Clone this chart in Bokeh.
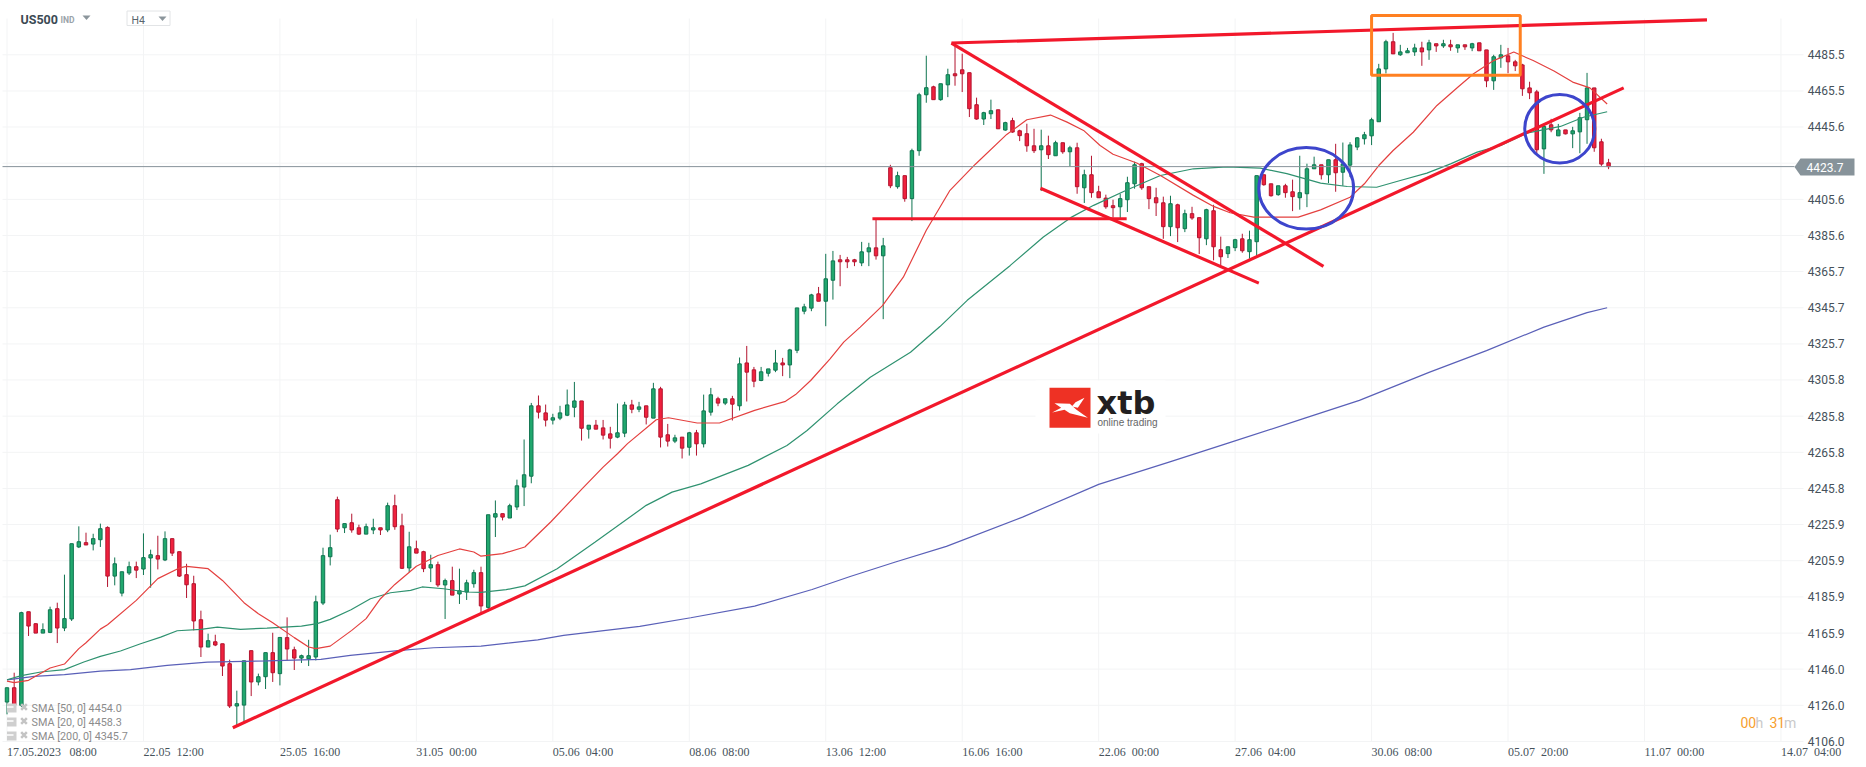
from bokeh.plotting import figure
from bokeh.embed import file_html
from bokeh.resources import INLINE
from bokeh.models import (ColumnDataSource, FixedTicker, LinearAxis, LabelSet, Label, Range1d)

opens = [
4127.8,4135.7,4126.0,4177.7,4171.1,4165.9,4166.3,4179.4,4168.7,4173.7,
4213.5,4215.9,4215.1,4217.5,4224.3,4197.4,4188.0,4199.1,4202.6,4201.3,
4207.4,4208.7,4206.3,4218.1,4210.9,4198.2,4193.2,4173.3,4158.2,4161.1,
4160.0,4149.0,4125.6,4126.1,4156.2,4138.9,4141.8,4155.1,4143.5,4163.4,
4156.7,4152.1,4151.7,4152.7,4182.5,4208.1,4239.6,4224.1,4226.9,4224.1,
4220.6,4222.9,4224.1,4222.9,4236.3,4225.2,4201.9,4212.5,4210.9,4201.9,
4203.7,4192.5,4194.9,4187.5,4188.6,4193.2,4199.3,4180.1,4230.0,4231.9,
4229.5,4235.6,4246.6,4252.6,4291.5,4287.6,4283.6,4284.7,4286.3,4290.7,
4294.2,4278.6,4280.8,4279.3,4276.0,4274.2,4276.4,4292.0,4289.6,4291.5,
4284.7,4300.9,4275.5,4272.0,4274.2,4268.6,4276.6,4270.5,4288.0,4295.4,
4293.0,4295.4,4291.5,4315.2,4311.4,4305.5,4309.5,4311.2,4315.2,4314.1,
4322.2,4343.8,4345.5,4353.4,4349.3,4360.9,4372.2,4372.2,4372.2,4370.5,
4376.6,4378.8,4374.4,4423.1,4412.6,4418.7,4406.0,4432.5,4463.4,4467.8,
4460.7,4468.9,4475.0,4477.2,4475.6,4457.9,4450.0,4452.9,4455.1,4443.9,
4449.1,4443.5,4441.9,4435.2,4433.0,4435.2,4429.7,4436.9,4431.9,4434.1,
4412.0,4419.2,4409.8,4406.3,4402.1,4401.5,4405.4,4414.2,4425.3,4412.6,
4406.5,4403.7,4390.5,4402.6,4389.4,4397.7,4395.5,4383.8,4399.3,4377.8,
4375.6,4378.9,4383.8,4376.7,4382.2,4419.2,4414.2,4408.2,4413.1,4409.8,
4406.5,4408.7,4422.5,4424.7,4419.2,4427.5,4420.6,4424.5,4434.5,4439.1,
4440.7,4448.5,4477.7,4492.7,4485.5,4486.6,4487.1,4489.3,4488.2,4491.6,
4490.4,4491.0,4489.3,4491.0,4489.3,4492.1,4488.2,4471.1,4483.8,4484.9,
4481.6,4479.9,4467.2,4465.0,4433.5,4446.8,4440.7,4444.0,4441.8,4442.9,
4449.6,4467.2,4437.4,4425.8]

highs = [
4135.7,4144.0,4177.7,4177.7,4171.3,4171.3,4180.5,4182.7,4198.2,4215.3,
4224.9,4221.4,4220.8,4226.4,4224.9,4207.7,4199.8,4205.4,4205.4,4221.0,
4212.0,4219.7,4222.1,4218.1,4210.9,4204.2,4197.6,4178.3,4165.6,4165.0,
4160.0,4151.2,4134.1,4150.6,4156.2,4143.5,4155.1,4166.1,4163.5,4174.6,
4158.4,4154.0,4162.2,4186.6,4213.1,4220.3,4241.3,4226.4,4231.9,4225.8,
4226.4,4229.1,4224.1,4238.0,4242.4,4231.9,4221.9,4217.0,4211.4,4209.2,
4205.4,4196.0,4202.6,4201.5,4195.4,4200.9,4202.6,4231.3,4239.2,4231.9,
4237.4,4250.7,4272.9,4293.1,4297.2,4292.2,4287.1,4291.5,4300.5,4304.7,
4294.2,4280.8,4283.7,4283.7,4279.9,4292.8,4293.7,4294.8,4293.7,4291.5,
4304.2,4302.0,4281.5,4275.5,4274.2,4277.1,4278.2,4297.7,4301.4,4296.5,
4295.4,4297.0,4318.2,4324.6,4313.0,4313.0,4311.9,4322.4,4318.0,4323.0,
4345.6,4347.9,4353.4,4357.2,4375.5,4377.1,4374.9,4373.8,4372.7,4382.1,
4381.6,4394.9,4384.3,4424.7,4420.9,4418.7,4433.6,4464.5,4485.0,4468.4,
4469.5,4477.8,4492.5,4486.1,4475.6,4461.8,4454.0,4460.7,4455.1,4448.5,
4450.7,4444.1,4447.4,4444.6,4444.1,4440.8,4438.0,4436.9,4435.2,4436.9,
4422.0,4429.7,4413.1,4408.2,4405.4,4408.7,4418.1,4426.4,4425.8,4412.6,
4412.0,4407.1,4407.6,4403.2,4399.9,4401.5,4395.5,4400.4,4402.6,4385.0,
4379.4,4383.8,4386.6,4388.3,4418.7,4419.2,4414.2,4413.1,4414.2,4416.5,
4429.7,4425.3,4429.2,4424.7,4427.5,4436.3,4437.0,4437.2,4440.0,4442.9,
4450.7,4480.5,4493.8,4497.6,4491.0,4489.3,4491.6,4492.7,4493.8,4491.6,
4493.8,4493.8,4491.0,4491.0,4492.1,4492.1,4488.2,4485.5,4491.0,4489.3,
4482.7,4480.5,4470.6,4466.1,4447.3,4450.1,4447.3,4444.0,4445.7,4453.4,
4475.5,4467.2,4439.1,4428.0]

lows = [
4121.0,4124.1,4125.0,4164.3,4165.9,4165.9,4165.9,4160.4,4167.0,4172.6,
4212.9,4214.6,4211.6,4213.5,4191.4,4192.3,4186.2,4198.0,4196.3,4198.0,
4191.0,4201.1,4205.7,4208.5,4196.9,4185.3,4167.4,4152.7,4158.2,4158.7,
4142.2,4124.5,4114.4,4116.8,4131.1,4137.0,4135.0,4138.9,4137.0,4150.8,
4145.5,4149.4,4147.7,4150.8,4181.4,4203.3,4221.7,4221.2,4221.4,4220.1,
4220.6,4220.6,4220.1,4221.7,4223.0,4201.3,4199.6,4210.1,4199.6,4194.1,
4191.4,4173.7,4186.9,4182.0,4184.2,4191.0,4176.6,4178.0,4219.0,4228.2,
4229.5,4233.9,4236.1,4248.7,4284.5,4280.1,4281.2,4283.6,4285.8,4285.2,
4272.3,4273.4,4278.6,4272.9,4267.9,4273.6,4274.2,4287.4,4288.0,4281.2,
4284.7,4268.5,4269.0,4270.9,4262.4,4264.0,4264.0,4268.5,4286.1,4291.3,
4291.9,4283.4,4288.9,4293.9,4301.8,4305.1,4307.7,4310.1,4307.9,4306.8,
4320.6,4342.1,4343.8,4349.3,4335.5,4350.2,4357.6,4367.6,4368.7,4368.7,
4368.7,4372.3,4339.4,4411.8,4411.5,4404.3,4393.6,4429.7,4459.0,4460.7,
4460.1,4462.1,4468.4,4464.9,4451.1,4449.6,4446.7,4450.0,4444.6,4443.5,
4442.4,4437.8,4431.9,4431.2,4410.2,4427.9,4429.7,4430.8,4423.8,4408.7,
4403.6,4406.5,4406.5,4400.4,4395.5,4395.1,4398.6,4411.5,4410.9,4400.2,
4396.4,4383.8,4385.3,4382.0,4387.5,4394.3,4375.4,4380.3,4371.9,4369.1,
4373.2,4377.0,4376.1,4372.8,4374.5,4413.1,4407.1,4407.6,4406.5,4399.1,
4399.9,4401.3,4422.5,4416.6,4414.6,4409.8,4413.1,4417.9,4432.8,4435.9,
4435.6,4448.5,4475.2,4486.0,4484.9,4486.6,4484.9,4479.4,4482.7,4487.1,
4489.3,4487.7,4486.6,4488.2,4487.5,4487.7,4467.6,4466.1,4478.3,4475.3,
4476.5,4462.8,4461.0,4430.8,4419.7,4442.7,4440.7,4441.5,4433.9,4431.1,
4436.3,4431.9,4424.1,4422.3]

closes = [
4135.7,4126.0,4177.2,4169.8,4165.9,4167.8,4178.8,4168.7,4173.9,4215.3,
4216.4,4214.6,4218.1,4223.6,4197.4,4204.2,4199.8,4202.6,4200.7,4207.6,
4209.2,4206.8,4218.1,4210.1,4197.4,4192.6,4172.6,4158.2,4161.7,4159.3,
4147.7,4125.6,4126.9,4150.6,4138.9,4141.8,4155.1,4144.0,4163.5,4157.1,
4152.1,4153.4,4153.4,4183.2,4208.7,4213.1,4223.4,4226.4,4222.9,4220.6,
4224.7,4224.1,4222.9,4236.3,4224.7,4201.7,4213.6,4210.1,4201.5,4203.7,
4192.5,4194.9,4186.9,4189.3,4193.7,4199.3,4180.9,4231.3,4231.9,4230.0,
4236.3,4247.3,4253.4,4291.5,4288.0,4283.6,4284.9,4287.6,4292.0,4294.2,
4279.1,4280.8,4278.6,4275.3,4273.6,4276.6,4292.0,4289.6,4290.9,4285.2,
4300.9,4274.2,4272.0,4273.8,4268.1,4276.6,4270.5,4288.7,4297.6,4293.0,
4295.4,4292.4,4314.7,4310.1,4305.1,4310.3,4311.9,4315.2,4314.1,4322.4,
4345.6,4346.2,4352.8,4349.3,4361.7,4371.6,4371.1,4371.1,4371.1,4376.6,
4378.8,4374.4,4379.9,4413.1,4418.7,4406.0,4432.5,4463.4,4467.3,4460.7,
4469.5,4474.5,4473.9,4475.0,4455.7,4450.0,4453.5,4454.6,4444.6,4448.0,
4442.8,4440.8,4435.2,4432.5,4435.2,4430.3,4436.9,4431.9,4434.1,4412.6,
4419.2,4409.3,4406.5,4401.5,4401.0,4406.0,4414.8,4424.7,4412.0,4406.0,
4403.7,4390.5,4403.2,4389.9,4397.7,4395.3,4384.4,4399.9,4379.4,4373.9,
4379.4,4383.3,4377.2,4383.3,4418.7,4413.7,4407.6,4413.1,4409.3,4407.1,
4409.3,4422.5,4424.7,4419.2,4427.5,4420.3,4425.2,4435.7,4439.6,4441.3,
4449.6,4477.7,4492.7,4486.0,4487.1,4487.7,4489.3,4487.1,4492.1,4490.4,
4491.6,4489.9,4491.0,4489.9,4491.6,4487.7,4471.1,4484.4,4485.5,4481.6,
4479.4,4466.7,4464.5,4433.0,4445.9,4444.0,4444.0,4441.8,4443.5,4450.7,
4467.2,4434.1,4425.1,4423.7]

sma20_bar = [0,1,3,6,8,10,11,13,14,18,21,24,25,28,30,33,35,37,40,42,43,45,48,50,52,54,57,60,63,65,66,
             69,72.1,75.7,80.1,83,85,86.4,90.4,92.1,96.1,99.2,104.1,108.4,109.8,111.9,114.6,116.5,118.8,121.9,124.8,
             128,131.3,134.8,139.2,142,145.3,147.6,149.9,152.2,154,157.3,160.6,165.2,168,170.3,173.6,176.3,179.8,
             182.9,187,189,191,193,195.8,199.1,202,204.2,207,209.8,212.5,215.4,218,220.4,222.8]
sma20_val = [4139.4,4138.5,4139.8,4146.6,4148.8,4157.3,4160.6,4168.1,4170.5,4184.0,4196.0,4201.9,4202.8,4201.5,4195.0,4182.7,4176.6,4171.6,4163.4,4158.2,4157.3,4158.7,4167.4,4173.9,4184.9,4192.8,4202.8,4208.8,4212.4,4210.7,4208.4,
             4209.8,4213.5,4227.3,4245.7,4257.6,4265.0,4270.6,4283.8,4284.9,4282.0,4282.0,4289.0,4294.0,4297.7,4305.5,4317.5,4326.7,4335.0,4346.9,4362.6,
             4388.5,4410.6,4424.9,4441.5,4449.6,4452.2,4448.3,4443.7,4435.4,4430.5,4425.7,4418.8,4407.8,4401.7,4398.2,4395.8,4395.8,4395.8,
             4399.8,4406.8,4414.2,4424.3,4432.6,4442.7,4457.5,4467.6,4475.0,4482.3,4487.0,4482.3,4476.5,4470.4,4467.2,4458.3]

sma50_bar = [0,2,4.7,8,10.7,13,15.8,18.6,21.4,23.7,27,29.3,32.5,36.2,41,43.2,45,47.9,50.6,53.4,56.2,57.8,60.8,64,66,
             69.5,72.1,76.6,81.9,89,92.6,96.6,103.2,108.6,111.4,115.6,120.2,125.8,129.9,133.7,139.7,144.3,148.1,151.3,156,
             160.6,165.2,169.9,174.5,178.2,182.9,186.6,190.7,194,197.7,201,204.7,208,211.6,216.3,219.5,222.8]
sma50_val = [4140.1,4142.4,4144.4,4145.7,4149.9,4153.0,4156.0,4160.0,4163.7,4167.2,4168.0,4169.2,4168.0,4168.7,4169.8,4171.1,4173.5,4178.8,4184.9,4188.2,4189.5,4191.4,4190.4,4188.6,4188.4,
             4189.9,4192.0,4201.5,4216.2,4236.5,4243.8,4248.4,4258.6,4269.6,4277.9,4292.6,4307.3,4321.1,4335.3,4349.8,4369.1,4384.8,4395.5,4402.3,4410.9,
             4418.8,4422.5,4423.5,4422.9,4419.8,4414.6,4412.7,4412.3,4416.0,4420.1,4425.2,4431.7,4435.4,4442.2,4445.9,4451.0,4454.0]

sma200_bar = [0,3.8,8,13,17.2,22.3,27.9,36.2,43.7,47.8,54.8,59.4,66,73.9,77.5,88.1,95.2,104.1,112.1,117.4,123.7,130.8,141.4,152,161.8,169.8,180.5,188.3,198,206,214,220,222.8]
sma200_val = [4140.1,4142.0,4142.9,4144.9,4145.7,4148.1,4149.9,4150.5,4151.4,4153.6,4156.4,4157.8,4158.7,4162.2,4164.6,4169.6,4174.4,4180.8,4190.0,4197.2,4205.2,4213.8,4230.0,4248.1,4260.4,4270.6,4284.4,4294.5,4310.0,4322.0,4335.0,4343.0,4345.7]

price_ticks = [4485.5,4465.5,4445.6,4425.6,4405.6,4385.6,4365.7,4345.7,4325.7,4305.8,4285.8,4265.8,4245.8,4225.9,4205.9,4185.9,4165.9,4146.0,4126.0,4106.0]
time_bars = [0,19,38,57,76,95,114,133,152,171,190,209,228,247]
EN = "\u2002"
time_labels = ["17.05.2023"+EN+"\u2009"+"08:00","22.05"+EN+"12:00","25.05"+EN+"16:00","31.05"+EN+"00:00","05.06"+EN+"04:00","08.06"+EN+"08:00","13.06"+EN+"12:00",
               "16.06"+EN+"16:00","22.06"+EN+"00:00","27.06"+EN+"04:00","30.06"+EN+"08:00","05.07"+EN+"20:00","11.07"+EN+"00:00","14.07"+EN+"04:00"]
last_price = 4423.7
legend_names = ["SMA [50, 0] 4454.0","SMA [20, 0] 4458.3","SMA [200, 0] 4345.7"]


def dx(px):
    return (px - 6.5) / 7.182


def dy(py):
    return 4515.5 - 0.55264 * py


GREEN, GREEN_E = "#21a86e", "#0f7450"
RED, RED_E = "#f0213d", "#b3142f"
TREND = "#f2182b"
GRID = "#f3f4f5"
TXT = "#46525b"

p = figure(width=1866, height=767, output_backend="svg", toolbar_location=None,
           x_range=Range1d(dx(0), dx(1866)), y_range=Range1d(dy(767), dy(0)),
           x_axis_location=None, y_axis_location=None,
           min_border_left=0, min_border_right=0, min_border_top=0, min_border_bottom=0,
           outline_line_color=None, background_fill_color="white", border_fill_color="white")

yaxis = LinearAxis(ticker=FixedTicker(ticks=price_ticks), axis_line_color=None, fixed_location=dx(1799.2),
                   major_tick_line_color=None, minor_tick_line_color=None,
                   major_label_text_font="Roboto", major_label_text_font_size="12px",
                   major_label_text_color=TXT, major_label_standoff=2,
                   major_label_overrides={v: f"{v:.1f}" for v in price_ticks if v != 4425.6} | {4425.6: ""})
p.add_layout(yaxis, "right")
p.grid.visible = False
p.segment(x0=time_bars, x1=time_bars, y0=[price_ticks[-1]] * len(time_bars), y1=[dy(18)] * len(time_bars),
          line_color=GRID, line_width=1, level="underlay")
p.segment(x0=[dx(2)] * len(price_ticks), x1=[dx(1803)] * len(price_ticks), y0=price_ticks, y1=price_ticks,
          line_color=GRID, line_width=1, level="underlay")

# logo background
p.quad(left=[dx(1035)], right=[dx(1165)], top=[dy(380)], bottom=[dy(433)], fill_color="white", line_color=None, level="underlay")

bars = list(range(len(opens)))
up = [c >= o for o, c in zip(opens, closes)]
src = ColumnDataSource(dict(x=bars, o=opens, h=highs, l=lows, c=closes,
                            top=[max(a, b) for a, b in zip(opens, closes)],
                            bot=[min(a, b) for a, b in zip(opens, closes)],
                            fill=[GREEN if u else RED for u in up],
                            edge=[GREEN_E if u else RED_E for u in up]))
p.segment("x", "h", "x", "l", source=src, line_color="edge", line_width=1)
p.vbar("x", 0.48, "top", "bot", source=src, fill_color="fill", line_color="edge", line_width=1)

p.line(sma200_bar, sma200_val, line_color="#5a60b8", line_width=1.2)
p.line(sma50_bar, sma50_val, line_color="#2f9270", line_width=1.2)
p.line(sma20_bar, sma20_val, line_color="#e4403f", line_width=1.2)

# price line and tag
p.line([dx(2), dx(1794)], [last_price, last_price], line_color="#87939a", line_width=1)
p.patch([dx(1794), dx(1800), dx(1854), dx(1854), dx(1800)], [dy(166.5), dy(158), dy(158), dy(175), dy(175)],
        fill_color="#87939a", line_color=None)
p.add_layout(Label(x=dx(1806), y=dy(167), text=f"{last_price}", text_color="white", text_font="Roboto",
                   text_font_size="12px", text_baseline="middle"))

# drawn trend lines
for xs, ys in [([31.44, 225.1], [4113.6, 4467.2]),
               ([131.5, 236.7], [4492.0, 4504.8]),
               ([131.5, 183.3], [4492.0, 4368.6]),
               ([143.9, 174.3], [4411.7, 4359.3]),
               ([120.5, 155.9], [4394.9, 4394.9])]:
    p.line(xs, ys, line_color=TREND, line_width=3.2)

p.quad(left=[190.0], right=[210.7], top=[4507.2], bottom=[4474.2], fill_alpha=0, line_color="#ff8021", line_width=3)
p.ellipse(x=[180.9, 216.2], y=[4411.7, 4444.6], width=[13.2, 9.75], height=[45.0, 37.9], fill_alpha=0,
          line_color="#3d45cc", line_width=3)

# logo
p.quad(left=[dx(1049)], right=[dx(1090)], top=[dy(387.3)], bottom=[dy(427.3)], fill_color="#ee3124", line_color=None)
wx = lambda a: [dx(1000 + v / 3) for v in a]
wy = lambda a: [dy(370 + v / 3) for v in a]
p.patch(wx([162, 208, 228, 262, 208, 192, 155, 182]), wy([98, 100, 118, 142, 128, 118, 126, 112]), fill_color="white", line_color=None)
p.patch(wx([252, 232, 214, 225]), wy([82, 112, 108, 95]), fill_color="white", line_color=None)
p.add_layout(Label(x=dx(1096), y=dy(402), text="xtb", text_font="DejaVu Sans", text_font_style="bold",
                   text_font_size="32px", text_color="#231f20", text_baseline="middle"))
p.add_layout(Label(x=dx(1097), y=dy(422), text="online trading", text_font="Liberation Sans",
                   text_font_size="10px", text_color="#666666", text_baseline="middle"))

# time labels
p.add_layout(LabelSet(x="x", y="y", text="t", source=ColumnDataSource(dict(x=time_bars, y=[dy(751)] * len(time_bars), t=time_labels)),
                      text_font="Roboto", text_font_size="12px", text_color=TXT, text_align="left", text_baseline="middle"))

# indicator legend
for name, py in zip(legend_names, [707.5, 721.5, 735.5]):
    p.quad(left=[dx(6.5)], right=[dx(16)], top=[dy(py - 4.5)], bottom=[dy(py + 4.5)], fill_color="#cfcfcf", line_color=None)
    p.segment(x0=[dx(6.5)], y0=[dy(py - 1)], x1=[dx(13)], y1=[dy(py - 1)], line_color="white", line_width=1.5)
    p.scatter(x=[dx(23.5)], y=[dy(py - 1)], marker="x", size=8, line_color="#c4c4c4", line_width=2.5)
    p.add_layout(Label(x=dx(31), y=dy(py), text=name, text_font="Roboto", text_font_size="10.8px",
                       text_color="#8c8c8c", text_baseline="middle"))

# header
p.add_layout(Label(x=dx(20), y=dy(19), text="US500", text_font="Roboto", text_font_style="bold", text_font_size="12.5px",
                   text_color="#3c4a54", text_baseline="middle"))
p.add_layout(Label(x=dx(60), y=dy(19), text="IND", text_font="Roboto", text_font_style="bold", text_font_size="8.5px",
                   text_color="#9aa3a9", text_baseline="middle"))
p.patch([dx(82), dx(90), dx(86)], [dy(15), dy(15), dy(19.5)], fill_color="#8b959b", line_color=None)
p.quad(left=[dx(126.5)], right=[dx(169.5)], top=[dy(10.5)], bottom=[dy(25)], fill_color="white", line_color="#e2e4e6", line_width=1)
p.add_layout(Label(x=dx(131), y=dy(20), text="H4", text_font="Roboto", text_font_size="10.5px",
                   text_color="#59656d", text_baseline="middle"))
p.patch([dx(158), dx(166), dx(162)], [dy(16), dy(16), dy(20.5)], fill_color="#8b959b", line_color=None)

# candle countdown
for txt, px, col in [("00", 1740, "#f7a02e"), ("h", 1755, "#c9c9c9"), ("31", 1769, "#f7a02e"), ("m", 1783.5, "#c9c9c9")]:
    p.add_layout(Label(x=dx(px), y=dy(722), text=txt, text_font="Roboto", text_font_size="14px", text_color=col, text_baseline="middle"))

open("out.html", "w").write(file_html(p, INLINE))
